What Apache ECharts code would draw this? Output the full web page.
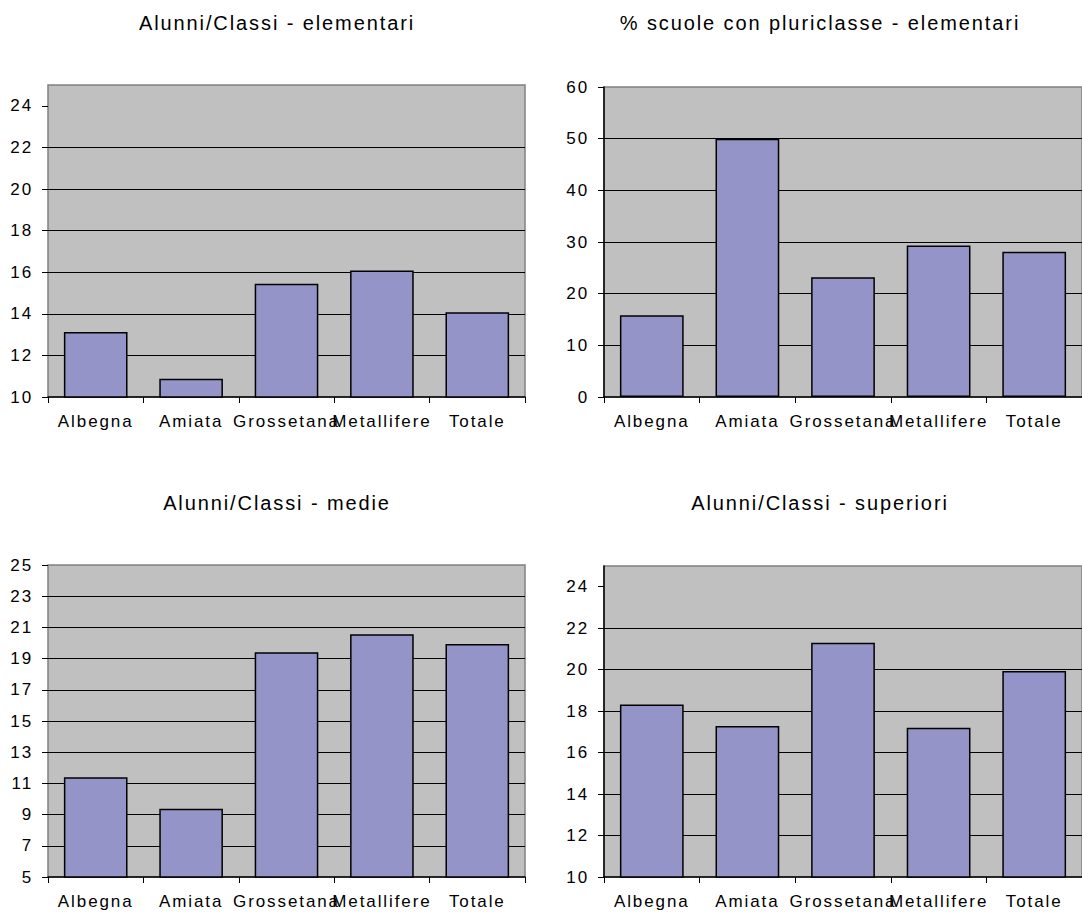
<!DOCTYPE html>
<html>
<head>
<meta charset="utf-8">
<script src="https://cdn.jsdelivr.net/npm/echarts@6/dist/echarts.min.js"></script>
<style>
  html, body { margin: 0; padding: 0; background: #fff; }
  #chart { width: 1082px; height: 914px; }
  #chart text { letter-spacing: 1.9px; }
</style>
</head>
<body>
<div id="chart"></div>
<script>
// Indicatori scolastici per area: quattro istogrammi
const categories = ['Albegna', 'Amiata', 'Grossetana', 'Metallifere', 'Totale'];

const titles = [
  'Alunni/Classi - elementari',
  '% scuole con pluriclasse - elementari',
  'Alunni/Classi - medie',
  'Alunni/Classi - superiori'
];

const elementariValues  = [13.12, 10.88, 15.45, 16.08, 14.08];
const pluriclasseValues = [15.8, 50, 23.2, 29.3, 28.1];
const medieValues       = [11.4, 9.38, 19.4, 20.56, 19.94];
const superioriValues   = [18.32, 17.28, 21.3, 17.2, 19.94];

const elementariTicks  = [10, 12, 14, 16, 18, 20, 22, 24];
const pluriclasseTicks = [0, 10, 20, 30, 40, 50, 60];
const medieTicks       = [5, 7, 9, 11, 13, 15, 17, 19, 21, 23, 25];
const superioriTicks   = [10, 12, 14, 16, 18, 20, 22, 24];

const FONT = '"Liberation Sans", Arial, sans-serif';

// one panel = title + grid + axes + bar series
const panels = [
  { values: elementariValues,  ticks: elementariTicks,  max: 25, interval: 2,  grid: { left: 48,  top: 85,  width: 477, height: 312 }, titleX: 272, titleY: 8,   yLine: false },
  { values: pluriclasseValues, ticks: pluriclasseTicks, max: 60, interval: 10, grid: { left: 604, top: 87,  width: 481, height: 310 }, titleX: 815, titleY: 8,   yLine: true },
  { values: medieValues,       ticks: medieTicks,       max: 25, interval: 2,  grid: { left: 48,  top: 565, width: 477, height: 312 }, titleX: 272, titleY: 488, yLine: false },
  { values: superioriValues,   ticks: superioriTicks,   max: 25, interval: 2,  grid: { left: 604, top: 566, width: 481, height: 311 }, titleX: 815, titleY: 488, yLine: true }
];

const option = {
  animation: false,
  backgroundColor: '#ffffff',
  title: panels.map((p, i) => ({
    text: titles[i],
    left: p.titleX,
    top: p.titleY,
    textAlign: 'center',
    textStyle: { fontFamily: FONT, fontSize: 20, fontWeight: 'normal', color: '#000' }
  })),
  grid: panels.map(p => Object.assign({
    show: true,
    backgroundColor: '#c0c0c0',
    borderColor: '#808080',
    borderWidth: 1.5
  }, p.grid)),
  xAxis: panels.map((p, i) => ({
    type: 'category',
    gridIndex: i,
    data: categories,
    axisLine: { show: true, lineStyle: { color: '#000', width: 1.5 } },
    axisTick: { show: true, length: 6, lineStyle: { color: '#000', width: 1 } },
    axisLabel: { interval: 0, margin: 16, color: '#000', fontFamily: FONT, fontSize: 17 },
    splitLine: { show: false }
  })),
  yAxis: panels.map((p, i) => ({
    type: 'value',
    gridIndex: i,
    min: p.ticks[0],
    max: p.max,
    interval: p.interval,
    axisLine: { show: p.yLine, lineStyle: { color: '#000', width: 1.5 } },
    axisTick: { show: true, length: 6, lineStyle: { color: '#000', width: 1 }, customValues: p.ticks },
    axisLabel: { margin: 15, color: '#000', fontFamily: FONT, fontSize: 17, customValues: p.ticks },
    splitLine: { show: true, showMinLine: false, showMaxLine: false, lineStyle: { color: '#000', width: 1 } }
  })),
  series: panels.map((p, i) => ({
    type: 'bar',
    xAxisIndex: i,
    yAxisIndex: i,
    data: p.values,
    barCategoryGap: '33.3%',
    itemStyle: { color: '#9494c8', borderColor: '#000', borderWidth: 1.5 }
  }))
};

const chart = echarts.init(document.getElementById('chart'), null, { renderer: 'svg' });
chart.setOption(option);
</script>
</body>
</html>
